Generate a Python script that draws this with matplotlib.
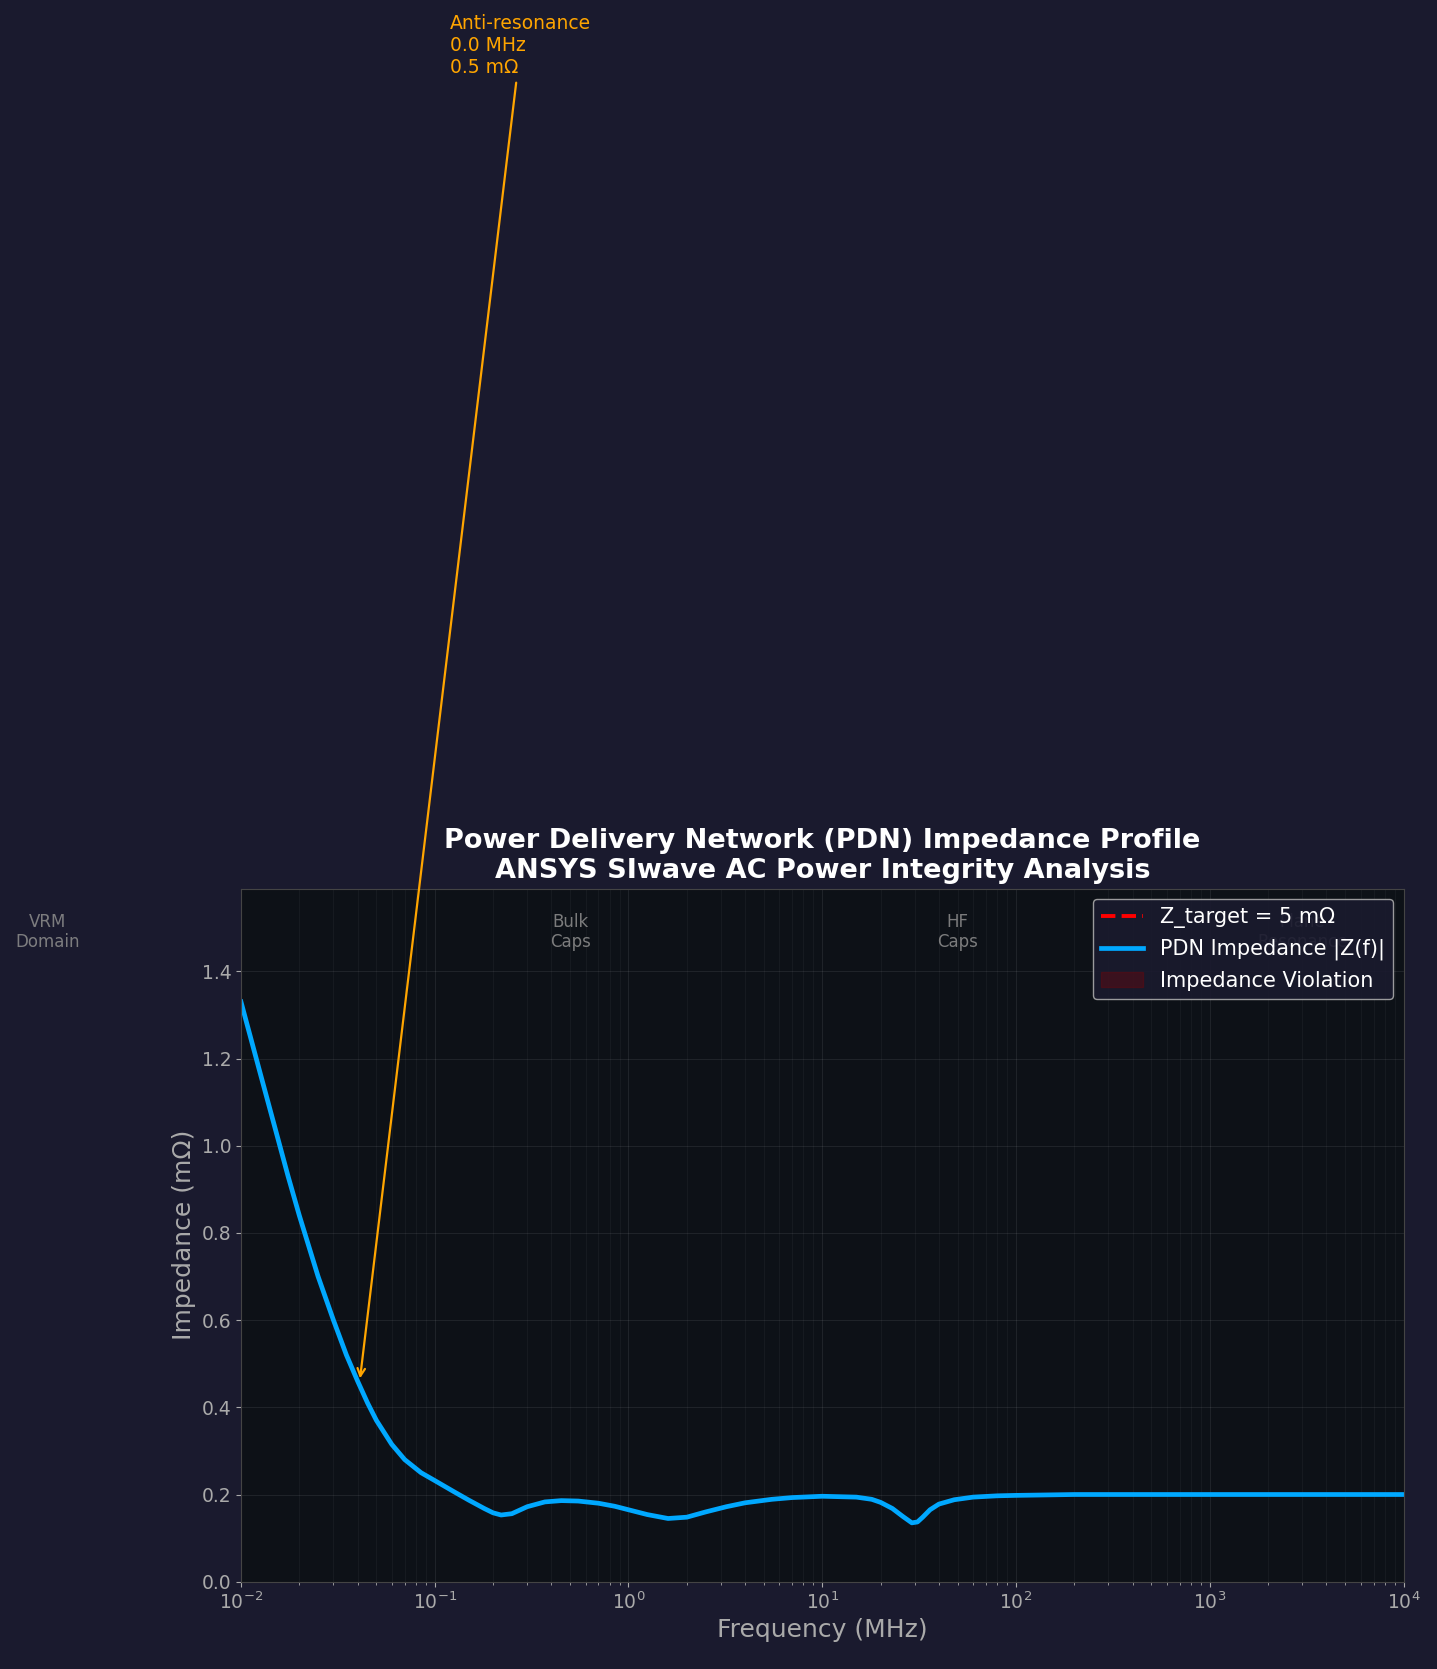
import numpy as np
import matplotlib
matplotlib.use('Agg')
import matplotlib.pyplot as plt

# values
freq_mhz = [0.01, 0.0125, 0.015, 0.0175, 0.02, 0.025, 0.03, 0.035, 0.04, 0.045, 0.05, 0.06, 0.07, 0.085,
            0.1, 0.125, 0.15, 0.18, 0.2, 0.22, 0.25, 0.3, 0.37, 0.45, 0.55, 0.7, 0.85, 1.0, 1.25,
            1.6, 2.0, 2.5, 3.2, 4, 5.5, 7, 10, 15, 18, 20, 23, 26, 29, 31, 33, 36, 40, 48, 60, 80,
            100, 200, 1000, 10000]
z_mohm = [1.33, 1.17, 1.04, 0.93, 0.84, 0.70, 0.60, 0.52, 0.46, 0.41, 0.37, 0.315, 0.28, 0.25,
          0.232, 0.207, 0.187, 0.168, 0.158, 0.153, 0.156, 0.172, 0.183, 0.186, 0.185, 0.18, 0.173, 0.165, 0.154,
          0.145, 0.148, 0.16, 0.172, 0.181, 0.189, 0.193, 0.196, 0.194, 0.189, 0.182, 0.168, 0.15, 0.135, 0.137, 0.148, 0.165, 0.178, 0.188, 0.194, 0.197,
          0.198, 0.2, 0.2, 0.2]
z_target = 5.0
regions = [(1e-3, 'VRM\nDomain'), (0.5, 'Bulk\nCaps'), (50, 'HF\nCaps'), (3000, 'Plane\nResonance')]

fig = plt.figure(figsize=(14.37, 16.69), dpi=100, facecolor='#1a1a2e')
ax = fig.add_axes([0.1677, 0.0523, 0.809, 0.4152], facecolor='#0d1117')

ax.plot(freq_mhz, [z_target] * len(freq_mhz), '--', color='#ff0000', lw=2.8, label='Z_target = 5 mΩ')
ax.plot(freq_mhz, z_mohm, color='#00a8ff', lw=3.4, label='PDN Impedance |Z(f)|')
z = np.array(z_mohm)
ax.fill_between(freq_mhz, z_target, z, where=z > z_target, color='#8b0000', alpha=0.3,
                label='Impedance Violation')

ax.set_xscale('log')
ax.set_xlim(1e-2, 1e4)
ax.set_ylim(0, max(z_mohm) * 1.195)

for x, t in regions:
    ax.text(x, 1.49, t, color='#888888', fontsize=12, ha='center', va='center', alpha=0.9)

ax.annotate('Anti-resonance\n0.0 MHz\n0.5 mΩ', xy=(0.041, 0.46), xytext=(0.12, 3.46),
            color='#ffa500', fontsize=13.5,
            arrowprops=dict(arrowstyle='->', color='#ffa500', lw=1.6))

ax.grid(True, which='major', color='#ffffff', alpha=0.08)
ax.grid(True, which='minor', color='#ffffff', alpha=0.04)
for s in ax.spines.values():
    s.set_color('#444444')
ax.tick_params(colors='#aaaaaa', labelsize=13.5, which='both')
ax.set_xlabel('Frequency (MHz)', color='#aaaaaa', fontsize=18)
ax.set_ylabel('Impedance (mΩ)', color='#aaaaaa', fontsize=18)
ax.set_title('Power Delivery Network (PDN) Impedance Profile\nANSYS SIwave AC Power Integrity Analysis',
             color='white', fontsize=19.5, fontweight='bold', pad=8)
ax.legend(loc='upper right', fontsize=15, facecolor='#1a1a2e', edgecolor='#aaaaaa',
          labelcolor='white', framealpha=0.9)

fig.savefig('out.png', facecolor=fig.get_facecolor())
